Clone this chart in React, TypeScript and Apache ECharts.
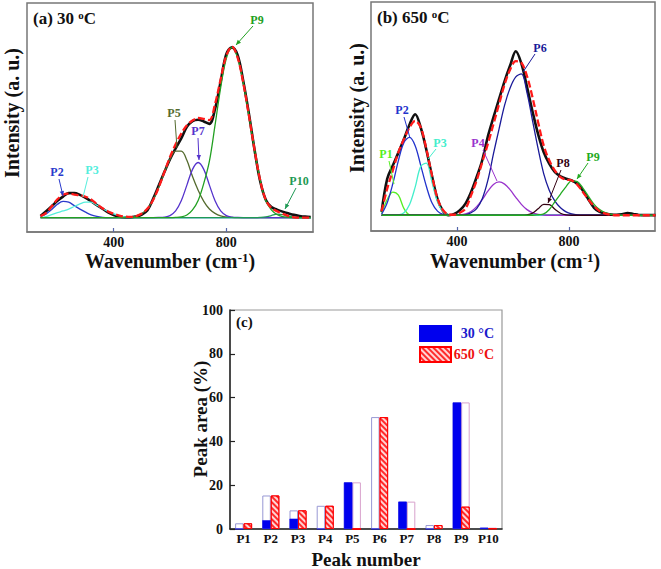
import React, { useEffect, useRef } from "react";
import * as echarts from "echarts";

// ---------- DATA ----------
// Panel (a) 30 °C : wavenumber grid (cm-1)
const waveA = [140,160,180,200,220,240,260,280,300,320,340,360,380,400,420,440,460,480,500,520,540,560,580,600,620,640,660,680,700,720,740,760,780,800,820,840,860,880,900,920,940,960,980,1000,1020,1040,1060,1080,1100];
const expA = [1.0,3.7,6.6,9.8,12.3,14.3,14.4,13.3,11.5,9.6,7.3,5.2,3.1,1.5,0.5,0.1,0.1,0.7,1.8,4.3,11.0,18.7,26.6,34.2,40.5,46.3,53.0,56.4,57.2,56.2,54.8,63.5,79.5,95.5,99.5,95.0,80.0,61.0,40.0,21.5,10.5,6.2,4.7,3.5,2.5,1.6,1.0,0.6,0.4];
const fitA = [0.9,2.8,6.6,10.7,13.4,14.0,13.5,13.0,12.2,10.6,7.9,5.5,3.6,2.2,1.2,0.6,0.4,0.9,2.4,5.3,10.3,17.7,26.6,35.4,42.8,49.1,54.0,56.7,58.2,57.7,57.0,66.4,80.9,94.6,99.9,93.6,79.0,60.0,40.0,22.1,10.4,5.7,3.8,2.3,1.0,0.2,0,0,0];
const p2A = [0.7,2.2,4.8,7.8,9.5,9.0,7.0,5.0,3.2,1.6,0.7,0.2,0,0,0,0,0,0,0,0,0,0,0,0,0,0,0,0,0,0,0,0,0,0,0,0,0,0,0,0,0,0,0,0,0,0,0,0,0];
const p3A = [0.2,0.6,1.8,2.9,3.9,5.0,6.5,8.0,9.0,9.0,7.2,5.3,3.6,2.2,1.2,0.5,0.1,0,0,0,0,0,0,0,0,0,0,0,0,0,0,0,0,0,0,0,0,0,0,0,0,0,0,0,0,0,0,0,0];
const p5A = [0,0,0,0,0,0,0,0,0,0,0,0,0,0,0,0.1,0.3,0.9,2.4,5.3,10.3,17.6,26.3,34.2,38.8,38.8,33.5,24.0,16.0,9.5,5.0,2.5,1.0,0.4,0.1,0,0,0,0,0,0,0,0,0,0,0,0,0,0];
const p7A = [0,0,0,0,0,0,0,0,0,0,0,0,0,0,0,0,0,0,0,0,0,0.1,0.3,1.2,3.9,9.9,19.0,28.2,32.2,28.2,19.0,9.9,3.9,1.2,0.3,0.1,0,0,0,0,0,0,0,0,0,0,0,0,0];
const p9A = [0,0,0,0,0,0,0,0,0,0,0,0,0,0,0,0,0,0,0,0,0,0,0,0,0.1,0.4,1.5,4.5,10.0,20.0,33.0,54.0,76.0,93.0,99.5,93.5,79.0,60.0,40.0,22.0,10.0,4.5,1.8,0.6,0.2,0,0,0,0];
const p10A = [0,0,0,0,0,0,0,0,0,0,0,0,0,0,0,0,0,0,0,0,0,0,0,0,0,0,0,0,0,0,0,0,0,0,0,0,0,0,0,0.1,0.4,1.2,2.0,1.7,0.8,0.2,0,0,0];

// Panel (b) 650 °C
const waveB = [130,150,170,190,210,230,250,270,290,310,330,350,370,390,410,430,450,470,490,510,530,550,570,590,610,630,650,670,690,710,730,750,770,790,810,830,850,870,890,910,930,950,970,990,1010,1030,1050,1070,1090,1110];
const expB = [2.0,22.0,30.0,37.8,46.0,54.8,61.0,52.9,39.5,23.8,9.7,2.4,0.0,0.8,3.0,7.0,14.0,23.1,33.2,47.5,59.0,70.1,81.0,90.5,99.0,91.5,77.5,62.5,48.8,38.0,31.0,26.0,23.5,22.0,21.0,19.0,15.0,9.5,4.5,2.0,1.0,0.5,0.3,0.6,1.3,0.8,0.2,0.1,0.1,0.1];
const fitB = [2.5,16.0,27.0,38.0,46.0,53.0,57.0,53.0,40.0,24.0,10.0,3.0,0.5,0.3,1.5,4.0,12.0,21.0,32.0,43.0,55.0,67.0,79.0,88.0,93.0,92.0,84.0,71.0,56.0,42.0,33.0,27.0,23.0,21.5,21.0,18.5,14.0,9.5,5.5,2.5,1.0,0.3,0,0,0,0,0,0,0,0];
const p1B = [1.0,9.5,14.0,12.1,4.0,0.3,0,0,0,0,0,0,0,0,0,0,0,0,0,0,0,0,0,0,0,0,0,0,0,0,0,0,0,0,0,0,0,0,0,0,0,0,0,0,0,0,0,0,0,0];
const p2B = [0.6,7.5,19.0,33.0,44.0,47.0,42.0,30.0,17.5,7.5,2.5,0.5,0,0,0,0,0,0,0,0,0,0,0,0,0,0,0,0,0,0,0,0,0,0,0,0,0,0,0,0,0,0,0,0,0,0,0,0,0,0];
const p3B = [0,0,0,0.2,1.5,6.5,17.0,29.5,31.5,20.0,8.0,2.0,0.3,0,0,0,0,0,0,0,0,0,0,0,0,0,0,0,0,0,0,0,0,0,0,0,0,0,0,0,0,0,0,0,0,0,0,0,0,0];
const p4B = [0,0,0,0,0,0,0,0,0,0,0,0,0,0,0.2,0.8,2.3,5.2,9.5,14.5,18.6,20.1,18.8,15.3,10.8,6.6,3.4,1.5,0.5,0.1,0,0,0,0,0,0,0,0,0,0,0,0,0,0,0,0,0,0,0,0];
const p6B = [0,0,0,0,0,0,0,0,0,0,0,0,0,0,0,0.3,1.5,4.0,10.0,21.0,37.0,52.0,66.5,77.0,83.5,85.3,74.0,57.0,40.0,25.0,15.0,8.5,4.5,2.0,0.8,0.2,0,0,0,0,0,0,0,0,0,0,0,0,0,0];
const p8B = [0,0,0,0,0,0,0,0,0,0,0,0,0,0,0,0,0,0,0,0,0,0,0,0,0,0,0.2,1.3,3.9,6.6,6.4,3.6,1.2,0.2,0,0,0,0,0,0,0,0,0,0,0,0,0,0,0,0];
const p9B = [0,0,0,0,0,0,0,0,0,0,0,0,0,0,0,0,0,0,0,0,0,0,0,0,0,0,0,0,0.3,0.8,3.5,8.2,12.8,17.3,20.8,20.3,16.4,11.4,6.6,3.4,1.6,0.5,0.1,0,0,0,0,0,0,0];

// Panel (c) peak areas (%)
const peaks = ["P1","P2","P3","P4","P5","P6","P7","P8","P9","P10"];
const area30 = [0, 4.0, 4.7, 0, 21.3, 0, 12.5, 0, 57.8, 0.6];
const area650 = [2.6, 15.3, 8.5, 10.6, 0, 51.1, 0, 1.8, 10.2, 0.3];
const wavenumberTicks = [400, 800];

// ---------- STYLE / LAYOUT ----------
const FONT = '"Liberation Serif", "Times New Roman", serif';

const pairs = (w: number[], v: number[]) => w.map((x, i) => [x, v[i]]);

function lineSeries(name: string, xi: number, w: number[], v: number[], color: string, width: number, type: any = "solid") {
  return {
    type: "line", name, xAxisIndex: xi, yAxisIndex: xi, data: pairs(w, v),
    showSymbol: false, smooth: 0.35, silent: true,
    lineStyle: { color, width, type },
  };
}

const wnAxis = (gi: number) => ({
  gridIndex: gi, type: "value", min: 92, max: 1108,
  axisLine: { show: true, onZero: false, lineStyle: { color: "#777", width: 1.5 } },
  axisTick: { show: true, inside: true, length: 4, customValues: wavenumberTicks, lineStyle: { color: "#5566aa", width: 1.2 } },
  axisLabel: { customValues: wavenumberTicks, fontSize: 14, fontWeight: "bold", color: "#111", margin: 3, fontFamily: FONT },
  splitLine: { show: false },
});

const ann = [
  { t: "P2", c: "#2a3acc", x: 57, y: 172, l: [59, 179, 63, 196], a: true },
  { t: "P3", c: "#55eedd", x: 92, y: 170, l: [88, 177, 83, 197], a: false },
  { t: "P5", c: "#556b2f", x: 174, y: 113, l: [175, 120, 177, 148], a: false },
  { t: "P7", c: "#5533cc", x: 198, y: 131, l: [198, 138, 199, 160], a: true },
  { t: "P9", c: "#22a022", x: 257, y: 20, l: [253, 26, 236, 45], a: true },
  { t: "P10", c: "#1f9a55", x: 299, y: 181, l: [296, 188, 285, 209], a: true },
  { t: "P1", c: "#55ee22", x: 386, y: 154, l: [389, 161, 394, 184], a: false },
  { t: "P2", c: "#2233cc", x: 402, y: 110, l: [404, 117, 410, 138], a: false },
  { t: "P3", c: "#44eecc", x: 440, y: 143, l: [436, 149, 428, 159], a: false },
  { t: "P4", c: "#9933cc", x: 478, y: 143, l: [483, 150, 497, 181], a: false },
  { t: "P6", c: "#1a1a99", x: 540, y: 48, l: [535, 54, 523, 72], a: false },
  { t: "P8", c: "#330011", x: 563, y: 163, l: [561, 170, 548, 203], a: true },
  { t: "P9", c: "#22aa22", x: 593, y: 157, l: [588, 163, 577, 179], a: true },
];

function arrowHead(x1: number, y1: number, x2: number, y2: number, color: string) {
  const dx = x2 - x1, dy = y2 - y1, len = Math.hypot(dx, dy) || 1;
  const ux = dx / len, uy = dy / len, L = 5, W = 2.2;
  return {
    type: "polygon", silent: true, z: 100,
    shape: { points: [[x2, y2], [x2 - ux * L - uy * W, y2 - uy * L + ux * W], [x2 - ux * L + uy * W, y2 - uy * L - ux * W]] },
    style: { fill: color },
  };
}

const supRich = (size: number) => ({
  s: { fontSize: size, fontWeight: "bold", fontFamily: FONT, verticalAlign: "top", fill: "#111" },
});

function txt(text: string, x: number, y: number, size: number, opts: any = {}) {
  return {
    type: "text", x, y, rotation: opts.rot || 0, silent: true, z: 100,
    style: {
      text, fontSize: size, fontWeight: "bold", fontFamily: FONT, fill: opts.fill || "#111",
      align: opts.align || "center", verticalAlign: "middle", rich: opts.rich,
    },
  };
}

function buildOption() {
  const outline = area30.map((v, i) => Math.max(v, area650[i]));
  const graphics: any[] = [
    txt("(a) 30 {s|o}C", 33, 18, 17, { align: "left", rich: supRich(11) }),
    txt("(b) 650 {s|o}C", 377, 17, 17, { align: "left", rich: supRich(11) }),
    txt("(c)", 236, 322, 15, { align: "left" }),
    txt("Wavenumber (cm{s|-1})", 170, 261, 20, { rich: supRich(13) }),
    txt("Wavenumber (cm{s|-1})", 515, 261, 20, { rich: supRich(13) }),
    txt("Intensity (a. u.)", 12, 113, 20, { rot: Math.PI / 2 }),
    txt("Intensity (a. u.)", 357, 108, 20, { rot: Math.PI / 2 }),
    txt("Peak area (%)", 200, 419, 19, { rot: Math.PI / 2 }),
    txt("Peak number", 366, 559, 19),
  ];
  ann.forEach((a) => {
    graphics.push(txt(a.t, a.x, a.y, 12, { fill: a.c }));
    graphics.push({ type: "line", silent: true, z: 100, shape: { x1: a.l[0], y1: a.l[1], x2: a.l[2], y2: a.l[3] }, style: { stroke: a.c, lineWidth: 1 } });
    if (a.a) graphics.push(arrowHead(a.l[0], a.l[1], a.l[2], a.l[3], a.c));
  });

  return {
    animation: false,
    backgroundColor: "#ffffff",
    textStyle: { fontFamily: FONT },
    grid: [
      { left: 27, top: 3, width: 286, height: 229, show: true, borderColor: "#777", borderWidth: 1.5, containLabel: false },
      { left: 371, top: 2, width: 284, height: 229, show: true, borderColor: "#777", borderWidth: 1.5, containLabel: false },
      { left: 230, top: 310, width: 272, height: 219, show: true, borderColor: "#999", borderWidth: 1.2, containLabel: false },
    ],
    xAxis: [
      wnAxis(0),
      wnAxis(1),
      {
        gridIndex: 2, type: "category", data: peaks,
        axisLine: { show: true, lineStyle: { color: "#222", width: 1.5 } },
        axisTick: { show: false },
        axisLabel: { fontSize: 13, fontWeight: "bold", color: "#111", margin: 3, fontFamily: FONT, interval: 0 },
      },
      { gridIndex: 2, type: "category", data: peaks, show: false },
    ],
    yAxis: [
      { gridIndex: 0, type: "value", min: -8.4, max: 125.4, show: false },
      { gridIndex: 1, type: "value", min: -9.5, max: 128.7, show: false },
      {
        gridIndex: 2, type: "value", min: 0, max: 100, interval: 20,
        axisLine: { show: true, lineStyle: { color: "#222", width: 1.5 } },
        axisTick: { show: true, inside: true, length: 5, lineStyle: { color: "#222", width: 1.2 } },
        axisLabel: { fontSize: 14, fontWeight: "bold", color: "#111", margin: 7, fontFamily: FONT },
        splitLine: { show: false },
      },
    ],
    legend: {
      data: ["30 °C", "650 °C"], orient: "vertical", left: 414, top: 320,
      itemWidth: 31, itemHeight: 15, itemGap: 4, icon: "rect", selectedMode: false,
      formatter: (n: string) => (n === "30 °C" ? "{b|" + n + "}" : "{r|" + n + "}"),
      textStyle: {
        fontFamily: FONT, fontSize: 14, fontWeight: "bold",
        rich: {
          b: { color: "#1a1acc", fontSize: 14, fontWeight: "bold", fontFamily: FONT, width: 38, align: "right" },
          r: { color: "#ee1111", fontSize: 14, fontWeight: "bold", fontFamily: FONT, width: 38, align: "right" },
        },
      },
    },
    series: [
      // panel (a)
      lineSeries("exp30", 0, waveA, expA, "#111111", 2.6),
      lineSeries("P2a", 0, waveA, p2A, "#2a3acc", 1.3),
      lineSeries("P3a", 0, waveA, p3A, "#55eedd", 1.3),
      lineSeries("P5a", 0, waveA, p5A, "#556b2f", 1.3),
      lineSeries("P7a", 0, waveA, p7A, "#5533cc", 1.3),
      lineSeries("P10a", 0, waveA, p10A, "#1f9a55", 1.3),
      lineSeries("P9a", 0, waveA, p9A, "#22a022", 1.3),
      lineSeries("fit30", 0, waveA, fitA, "#ff1a1a", 2.3, [7, 3]),
      // panel (b)
      lineSeries("exp650", 1, waveB, expB, "#111111", 2.6),
      lineSeries("P1b", 1, waveB, p1B, "#55ee22", 1.3),
      lineSeries("P2b", 1, waveB, p2B, "#2233cc", 1.3),
      lineSeries("P3b", 1, waveB, p3B, "#44eecc", 1.3),
      lineSeries("P4b", 1, waveB, p4B, "#9933cc", 1.3),
      lineSeries("P6b", 1, waveB, p6B, "#1a1a99", 1.3),
      lineSeries("P8b", 1, waveB, p8B, "#330011", 1.3),
      lineSeries("P9b", 1, waveB, p9B, "#22aa22", 1.3),
      lineSeries("fit650", 1, waveB, fitB, "#ff1a1a", 2.3, [7, 3]),
      // panel (c)
      {
        type: "bar", name: "outline30", xAxisIndex: 2, yAxisIndex: 2, data: outline,
        barWidth: 8.5, barGap: "0%", silent: true,
        itemStyle: { color: "#ffffff", borderColor: "#9898d4", borderWidth: 1 },
      },
      {
        type: "bar", name: "outline650", xAxisIndex: 2, yAxisIndex: 2, data: outline,
        barWidth: 8.5, barGap: "0%", silent: true,
        itemStyle: { color: "#ffffff", borderColor: "#d8a2cc", borderWidth: 1 },
      },
      {
        type: "bar", name: "30 °C", xAxisIndex: 3, yAxisIndex: 2, data: area30,
        barWidth: 8.5, barGap: "0%", silent: true,
        itemStyle: { color: "#0000ee", borderColor: "#0000ee", borderWidth: 0.5 },
      },
      {
        type: "bar", name: "650 °C", xAxisIndex: 3, yAxisIndex: 2, data: area650,
        barWidth: 8.5, barGap: "0%", silent: true,
        itemStyle: {
          color: "#ff2a2a", borderColor: "#ff0000", borderWidth: 1,
          decal: { symbol: "rect", symbolSize: 1, dashArrayX: [1, 0], dashArrayY: [1.5, 1.5], rotation: Math.PI / 4, color: "rgba(255,255,255,0.8)" },
        },
      },
    ],
    graphic: graphics,
  };
}

export default function App() {
  const ref = useRef<HTMLDivElement>(null);
  useEffect(() => {
    if (!ref.current) return;
    const chart = echarts.init(ref.current, null, { renderer: "svg" });
    chart.setOption(buildOption() as any);
    return () => chart.dispose();
  }, []);
  return <div ref={ref} style={{ position: "fixed", left: 0, top: 0, width: 661, height: 569, background: "#fff" }} />;
}
